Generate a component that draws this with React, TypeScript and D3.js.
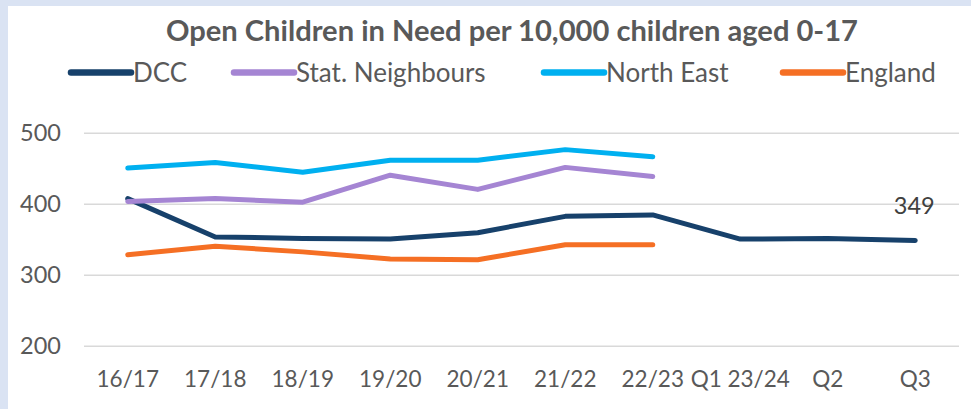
import React from "react";
import * as d3 from "d3";

const categories = ["16/17", "17/18", "18/19", "19/20", "20/21", "21/22", "22/23", "Q1 23/24", "Q2", "Q3"];
const dcc: (number | null)[] = [408, 354, 352, 351, 360, 383, 385, 351, 352, 349];
const statNeighbours: (number | null)[] = [404, 408, 403, 441, 421, 452, 439, null, null, null];
const northEast: (number | null)[] = [451, 459, 445, 462, 462, 477, 467, null, null, null];
const england: (number | null)[] = [329, 341, 333, 323, 322, 343, 343, null, null, null];
const yTicks = [200, 300, 400, 500];
const seriesNames = ["DCC", "Stat. Neighbours", "North East", "England"];
const title = "Open Children in Need per 10,000 children aged 0-17";

const W = 971;
const H = 409;
const colors = ["#17416b", "#a585d3", "#00b0f0", "#f56f24"];
const legendX = [71, 234, 544, 783];

export default function App() {
  const x = d3.scalePoint<string>().domain(categories).range([84, 959]).padding(0.5);
  const y = d3.scaleLinear().domain([200, 500]).range([346.3, 133.3]);
  const allSeries = [dcc, statNeighbours, northEast, england];
  const line = d3
    .line<number | null>()
    .defined((d) => d !== null)
    .x((_, i) => x(categories[i]) as number)
    .y((d) => y(d as number));
  const textColor = "#595959";
  const font = "Lato, 'Open Sans', sans-serif";
  const lastIdx = dcc.length - 1;

  return (
    <svg
      width={W}
      height={H}
      style={{ position: "absolute", left: 0, top: 0, display: "block" }}
      fontFamily={font}
    >
      <rect x={0} y={0} width={W} height={H} fill="#dae3f3" />
      <rect x={8} y={6} width={W - 8} height={H - 6} fill="#ffffff" />
      <text
        x={512}
        y={41}
        textAnchor="middle"
        fontSize={28}
        fontWeight="bold"
        fill={textColor}
        textLength={692}
        lengthAdjust="spacingAndGlyphs"
      >
        {title}
      </text>
      {seriesNames.map((name, i) => (
        <g key={name}>
          <line
            x1={legendX[i]}
            x2={legendX[i] + 60}
            y1={72.5}
            y2={72.5}
            stroke={colors[i]}
            strokeWidth={6.5}
            strokeLinecap="round"
          />
          <text x={legendX[i] + 62} y={82} fontSize={26} fill={textColor}>
            {name}
          </text>
        </g>
      ))}
      {yTicks.map((t) => (
        <g key={t}>
          <line x1={84} x2={959} y1={y(t)} y2={y(t)} stroke="#d9d9d9" strokeWidth={1.5} />
          <text x={61} y={y(t) + 8} textAnchor="end" fontSize={23.5} fill={textColor}>
            {t}
          </text>
        </g>
      ))}
      {categories.map((c) => (
        <text key={c} x={x(c)} y={387} textAnchor="middle" fontSize={22.5} fill={textColor}>
          {c}
        </text>
      ))}
      {allSeries.map((s, i) => (
        <path
          key={seriesNames[i]}
          d={line(s) || ""}
          fill="none"
          stroke={colors[i]}
          strokeWidth={5}
          strokeLinecap="round"
          strokeLinejoin="round"
        />
      ))}
      <text
        x={(x(categories[lastIdx]) as number) - 1}
        y={y(dcc[lastIdx] as number) - 27}
        textAnchor="middle"
        fontSize={23.5}
        fill="#404040"
      >
        {dcc[lastIdx]}
      </text>
    </svg>
  );
}
